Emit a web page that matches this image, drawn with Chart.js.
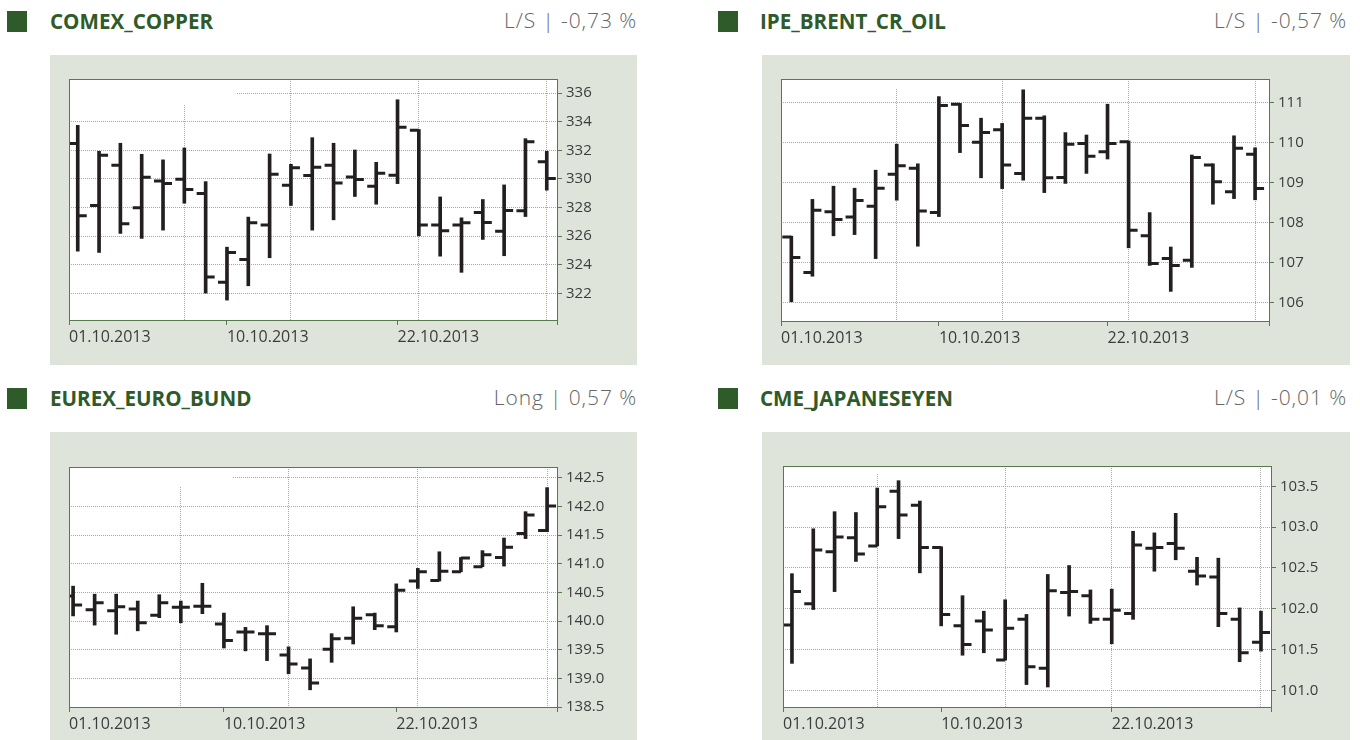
<!DOCTYPE html>
<html>
<head>
<meta charset="utf-8">
<script src="https://cdn.jsdelivr.net/npm/chart.js@4.4.0/dist/chart.umd.min.js"></script>
<style>
  body { margin: 0; width: 1360px; height: 740px; background: #fff; position: relative; overflow: hidden; font-family: "Open Sans", sans-serif; }
  .sq { position: absolute; width: 20px; height: 21px; background: #2f5a29; }
  .ttl { position: absolute; font-weight: 700; font-size: 20.6px; line-height: 24px; color: #2f5a29; white-space: nowrap; }
  .pct { position: absolute; font-weight: 300; font-size: 21px; line-height: 24px; color: #666; white-space: nowrap; text-align: right; letter-spacing: 0.9px; word-spacing: 0px; }
  .panel { position: absolute; background: #dfe4db; }
  .panel canvas { position: absolute; left: 0; top: 0; }
</style>
</head>
<body>

<div class="sq" style="left:7px;top:11px"></div>
<div class="ttl" style="left:50px;top:9px">COMEX_COPPER</div>
<div class="pct" style="right:723px;top:8px">L/S | -0,73 %</div>
<div class="panel" style="left:50px;top:55px;width:587px;height:310px"><canvas id="c1" width="587" height="310"></canvas></div>

<div class="sq" style="left:718px;top:11px"></div>
<div class="ttl" style="left:760px;top:9px">IPE_BRENT_CR_OIL</div>
<div class="pct" style="right:13px;top:8px">L/S | -0,57 %</div>
<div class="panel" style="left:762px;top:55px;width:588px;height:310px"><canvas id="c2" width="588" height="310"></canvas></div>

<div class="sq" style="left:7px;top:388px"></div>
<div class="ttl" style="left:50px;top:386px">EUREX_EURO_BUND</div>
<div class="pct" style="right:723px;top:385px">Long | 0,57 %</div>
<div class="panel" style="left:50px;top:432px;width:587px;height:308px"><canvas id="c3" width="587" height="308"></canvas></div>

<div class="sq" style="left:718px;top:388px"></div>
<div class="ttl" style="left:760px;top:386px">CME_JAPANESEYEN</div>
<div class="pct" style="right:13px;top:385px">L/S | -0,01 %</div>
<div class="panel" style="left:762px;top:432px;width:588px;height:308px"><canvas id="c4" width="588" height="308"></canvas></div>

<script>
// trading days, October 2013
const days = ["01.10.2013","02.10.2013","03.10.2013","04.10.2013","07.10.2013","08.10.2013","09.10.2013","10.10.2013",
  "11.10.2013","14.10.2013","15.10.2013","16.10.2013","17.10.2013","18.10.2013","21.10.2013","22.10.2013",
  "23.10.2013","24.10.2013","25.10.2013","28.10.2013","29.10.2013","30.10.2013","31.10.2013"];
const labelDays = [0, 7, 15];

// COMEX_COPPER
const copperOpen  = [332.47,328.14,330.95,327.98,329.86,329.98,328.98,322.77,324.37,326.77,329.56,330.23,330.95,330.14,329.49,330.26,333.40,326.77,326.77,327.65,326.35,327.77,331.19];
const copperHigh  = [333.74,331.93,332.49,331.72,331.33,332.16,329.81,325.23,327.33,331.74,331.02,332.88,332.49,332.02,331.16,335.53,333.45,328.74,327.28,328.56,329.58,332.81,331.93];
const copperLow   = [324.95,324.86,326.19,325.84,326.42,328.30,322.02,321.53,322.53,324.49,328.14,326.42,327.14,328.77,328.23,329.67,326.02,324.60,323.47,325.77,324.63,327.37,329.21];
const copperClose = [327.42,331.65,326.86,330.12,329.67,329.26,323.14,324.86,326.93,330.33,330.77,330.81,329.72,329.95,330.40,333.60,326.77,326.37,326.93,326.95,327.79,332.60,330.02];
const copperTicks = [322,324,326,328,330,332,334,336];

// IPE_BRENT_CR_OIL
const brentOpen  = [107.64,106.75,108.27,108.14,108.41,109.21,109.36,108.25,110.96,110.01,110.32,109.23,110.61,109.13,109.98,109.77,110.02,107.67,107.10,107.06,109.44,108.77,109.71];
const brentHigh  = [107.66,108.58,108.91,108.86,109.31,109.96,109.47,111.15,110.98,110.61,110.48,111.32,110.67,110.25,110.19,110.96,110.04,108.25,107.39,109.69,109.47,110.17,109.87];
const brentLow   = [106.02,106.66,107.67,107.70,107.10,108.56,107.41,108.15,109.75,109.12,108.85,109.06,108.75,108.98,109.23,109.59,107.37,106.93,106.28,106.88,108.46,108.60,108.57];
const brentClose = [107.13,108.31,108.08,108.55,108.86,109.42,108.29,110.93,110.43,110.25,109.44,110.61,109.12,109.96,109.66,109.98,107.81,106.98,106.93,109.63,109.02,109.86,108.85];
const brentTicks = [106,107,108,109,110,111];

// EUREX_EURO_BUND
const bundOpen  = [140.44,140.20,140.18,140.21,140.10,140.24,140.26,139.95,139.81,139.78,139.41,139.18,139.51,139.70,140.11,139.90,140.70,140.71,140.86,140.95,141.11,141.53,141.58];
const bundHigh  = [140.61,140.47,140.47,140.35,140.46,140.35,140.66,140.14,139.89,139.92,139.55,139.34,139.78,140.25,140.14,140.65,140.92,141.21,141.11,141.23,141.45,141.91,142.33];
const bundLow   = [140.09,139.93,139.77,139.83,140.06,139.97,140.13,139.53,139.48,139.31,139.08,138.80,139.28,139.60,139.85,139.81,140.57,140.70,140.86,140.95,140.96,141.44,141.56];
const bundClose = [140.28,140.32,140.25,139.97,140.32,140.24,140.26,139.66,139.81,139.78,139.25,138.92,139.69,140.05,139.92,140.54,140.86,140.87,141.10,141.16,141.29,141.85,142.01];
const bundTicks = [138.5,139.0,139.5,140.0,140.5,141.0,141.5,142.0,142.5];

// CME_JAPANESEYEN
const yenOpen  = [101.80,102.06,102.70,102.87,102.77,103.44,103.27,102.75,101.79,101.85,101.37,101.87,101.27,102.20,102.16,101.87,101.94,102.74,102.80,102.46,102.39,101.87,101.59];
const yenHigh  = [102.43,102.98,103.19,103.18,103.48,103.57,103.32,102.76,102.16,101.97,102.11,101.93,102.42,102.53,102.23,102.24,102.95,102.93,103.17,102.63,102.62,102.01,101.97];
const yenLow   = [101.33,101.99,102.21,102.58,102.77,102.86,102.44,101.79,101.43,101.46,101.37,101.07,101.04,101.91,101.82,101.57,101.87,102.46,102.60,102.29,101.78,101.35,101.48];
const yenClose = [102.21,102.72,102.88,102.67,103.25,103.15,102.75,101.93,101.56,101.74,101.76,101.29,102.22,102.21,101.87,101.98,102.78,102.75,102.74,102.40,101.94,101.46,101.71];
const yenTicks = [101.0,101.5,102.0,102.5,103.0,103.5];

Chart.defaults.font.family = "'Open Sans', sans-serif";
Chart.defaults.animation = false;

const GREEN = "#557a4c";
const INK = "#231f20";

function ohlcChart(id, open, high, low, close, yTicks, cfg) {
  const canvas = document.getElementById(id);
  const W = canvas.width, H = canvas.height;
  const a = cfg.area; // [left, top, right, bottom] inside the panel

  const ohlc = {
    id: "ohlc",
    beforeDraw(chart) {
      const r = chart.chartArea, ctx = chart.ctx;
      ctx.save();
      ctx.fillStyle = "#fff";
      ctx.fillRect(r.left, r.top, r.right - r.left, r.bottom - r.top);
      ctx.restore();
    },
    beforeDatasetsDraw(chart) {
      // blank strip at the top-left that hides part of the grid
      const r = chart.chartArea, ctx = chart.ctx;
      ctx.save();
      ctx.fillStyle = "#fff";
      ctx.fillRect(r.left + 1, r.top + 1, cfg.cover[0], cfg.cover[1]);
      ctx.restore();
    },
    afterDatasetsDraw(chart) {
      const r = chart.chartArea, ctx = chart.ctx;
      const xs = chart.scales.x, ys = chart.scales.y;
      ctx.save();
      ctx.beginPath();
      ctx.rect(r.left, r.top, r.right - r.left, r.bottom - r.top);
      ctx.clip();
      ctx.strokeStyle = INK;
      ctx.lineWidth = 3;
      ctx.beginPath();
      open.forEach((o, i) => {
        const px = xs.getPixelForValue(i);
        const yo = ys.getPixelForValue(o), yc = ys.getPixelForValue(close[i]);
        ctx.moveTo(px - 9, yo); ctx.lineTo(px, yo);
        ctx.moveTo(px, yc); ctx.lineTo(px + 9, yc);
      });
      ctx.stroke();
      ctx.restore();
    },
    afterDraw(chart) {
      const r = chart.chartArea, ctx = chart.ctx;
      ctx.save();
      ctx.strokeStyle = GREEN;
      ctx.lineWidth = 1;
      const l = Math.round(r.left) + 0.5, t = Math.round(r.top) + 0.5;
      ctx.strokeRect(l, t, Math.round(r.right) - Math.round(r.left), Math.round(r.bottom) - Math.round(r.top));
      ctx.restore();
    }
  };

  const xLabels = labelDays.map(i => days[i]).concat([""]);

  new Chart(canvas, {
    type: "bar",
    data: {
      datasets: [{
        data: high.map((h, i) => ({ x: i, y: [low[i], h] })),
        backgroundColor: INK,
        borderWidth: 0,
        barThickness: 3,
        xAxisID: "x",
        yAxisID: "y"
      }]
    },
    options: {
      responsive: false,
      animation: false,
      layout: { padding: { left: a[0], top: a[1], right: 0, bottom: 0 } },
      plugins: { legend: { display: false }, tooltip: { enabled: false } },
      scales: {
        x: {
          type: "linear", position: "bottom", bounds: "data",
          min: cfg.xmin, max: cfg.xmax, offset: false,
          afterBuildTicks: s => { s.ticks = [{ value: cfg.xmin }, { value: labelDays[1] }, { value: labelDays[2] }, { value: cfg.xmax }]; },
          afterFit: s => { s.height = H - a[3]; },
          grid: { display: true, drawOnChartArea: false, drawTicks: true, tickLength: 5, tickColor: GREEN, tickWidth: 1, offset: false },
          border: { display: false },
          ticks: {
            align: "start", padding: 3, autoSkip: false, maxRotation: 0,
            color: "#3c3c3c", font: { size: 16 },
            callback: (v, i) => xLabels[i]
          }
        },
        xg: {
          type: "linear", position: "top", bounds: "data",
          min: cfg.xmin, max: cfg.xmax, offset: false,
          afterBuildTicks: s => { s.ticks = cfg.vgrid.map(v => ({ value: v })); },
          afterFit: s => { s.height = 0; },
          ticks: { display: false },
          grid: { drawTicks: false, color: "#a9a9a9", lineWidth: 1, offset: false },
          border: { display: false, dash: [1, 1] }
        },
        y: {
          type: "linear", position: "right", bounds: "data",
          min: cfg.ymin, max: cfg.ymax,
          afterBuildTicks: s => { s.ticks = yTicks.map(v => ({ value: v })); },
          afterFit: s => { s.width = W - a[2]; },
          grid: { color: "#a9a9a9", lineWidth: 1, drawTicks: true, tickLength: 5, tickColor: GREEN, tickWidth: 1 },
          border: { display: false, dash: [1, 1] },
          ticks: {
            padding: 4, color: "#3c3c3c", font: { size: 15 },
            callback: v => v.toFixed(cfg.decimals)
          }
        }
      }
    },
    plugins: [ohlc]
  });
}

ohlcChart("c1", copperOpen, copperHigh, copperLow, copperClose, copperTicks,
  { area: [19, 24, 507, 265], xmin: -0.41, xmax: 22.48, ymin: 320.14, ymax: 336.98, decimals: 0, vgrid: [5, 10, 16, 22], cover: [166, 24] });
ohlcChart("c2", brentOpen, brentHigh, brentLow, brentClose, brentTicks,
  { area: [19, 24, 507, 266], xmin: -0.49, xmax: 22.66, ymin: 105.54, ymax: 111.59, decimals: 0, vgrid: [5, 10, 16, 22], cover: [170, 9] });
ohlcChart("c3", bundOpen, bundHigh, bundLow, bundClose, bundTicks,
  { area: [19, 35, 507, 275], xmin: -0.19, xmax: 22.46, ymin: 138.5, ymax: 142.69, decimals: 1, vgrid: [5, 10, 16, 22], cover: [162, 19] });
ohlcChart("c4", yenOpen, yenHigh, yenLow, yenClose, yenTicks,
  { area: [21, 34, 509, 275], xmin: -0.42, xmax: 22.47, ymin: 100.795, ymax: 103.75, decimals: 1, vgrid: [4, 10, 15, 22], cover: [170, 7] });
</script>
</body>
</html>
